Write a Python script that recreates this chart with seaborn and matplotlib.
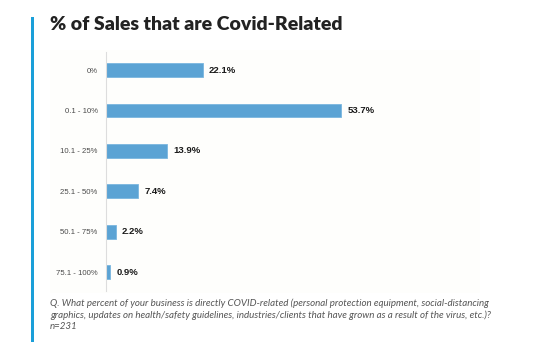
import matplotlib
matplotlib.use("Agg")
import matplotlib.pyplot as plt
import seaborn as sns
import pandas as pd
from matplotlib.patches import Rectangle

categories = ["0%", "0.1 - 10%", "10.1 - 25%", "25.1 - 50%", "50.1 - 75%", "75.1 - 100%"]
values = [22.1, 53.7, 13.9, 7.4, 2.2, 0.9]
value_labels = ["22.1%", "53.7%", "13.9%", "7.4%", "2.2%", "0.9%"]
title = "% of Sales that are Covid-Related"
footnote = ("Q. What percent of your business is directly COVID-related (personal protection equipment, social-distancing\n"
            "graphics, updates on health/safety guidelines, industries/clients that have grown as a result of the virus, etc.)?\n"
            "n=231")

df = pd.DataFrame({"category": categories, "value": values})

sns.set_theme(style="white")
plt.rcParams["font.family"] = ["Lato", "DejaVu Sans"]

W, H = 554, 342
fig = plt.figure(figsize=(W / 100, H / 100), dpi=100)
fig.patch.set_facecolor("white")

# panel background
fig.add_artist(Rectangle((50 / W, 1 - 293 / H), (480 - 50) / W, (293 - 50) / H,
                         transform=fig.transFigure, facecolor="#fefefc", edgecolor="none", zorder=0))
# left accent bar
fig.add_artist(Rectangle((31 / W, 0), 3 / W, 1 - 17 / H,
                         transform=fig.transFigure, facecolor="#1a9fd9", edgecolor="none", zorder=1))

ax_left, ax_right = 106, 470
ax_top, ax_bottom = 52, 291
ax = fig.add_axes([ax_left / W, 1 - ax_bottom / H, (ax_right - ax_left) / W, (ax_bottom - ax_top) / H])
ax.set_facecolor("none")

sns.barplot(data=df, y="category", x="value", orient="h", color="#5ba3d4",
            width=0.34, edgecolor="#7ab6df", linewidth=0.6, ax=ax, saturation=1)

px_per_unit = (341 - 106) / 53.7
ax.set_xlim(0, (ax_right - ax_left) / px_per_unit)
ax.set_ylim(5.47, -0.45)

for i, (v, lab) in enumerate(zip(values, value_labels)):
    ax.annotate(lab, xy=(v, i), xytext=(4.5, 0), textcoords="offset points",
                ha="left", va="center", fontsize=6.8, fontweight="bold", color="#1a1a1a",
                family=["Liberation Sans", "DejaVu Sans"])

ax.set_xlabel("")
ax.set_ylabel("")
ax.set_xticks([])
ax.tick_params(axis="y", length=0, pad=6, labelsize=5.6, labelcolor="#4a4a4a")
for lbl in ax.get_yticklabels():
    lbl.set_family(["Liberation Sans", "DejaVu Sans"])
for s in ["top", "right", "bottom"]:
    ax.spines[s].set_visible(False)
ax.spines["left"].set_color("#dddddd")
ax.spines["left"].set_linewidth(0.8)

fig.text(50 / W, 1 - 30 / H, title, ha="left", va="baseline", fontsize=14,
         fontweight="heavy", color="#222222")
fig.text(50 / W, 1 - 298 / H, footnote, ha="left", va="top", fontsize=7.0,
         style="italic", color="#555555", linespacing=1.35)

fig.savefig("out.png", dpi=100, facecolor="white")
